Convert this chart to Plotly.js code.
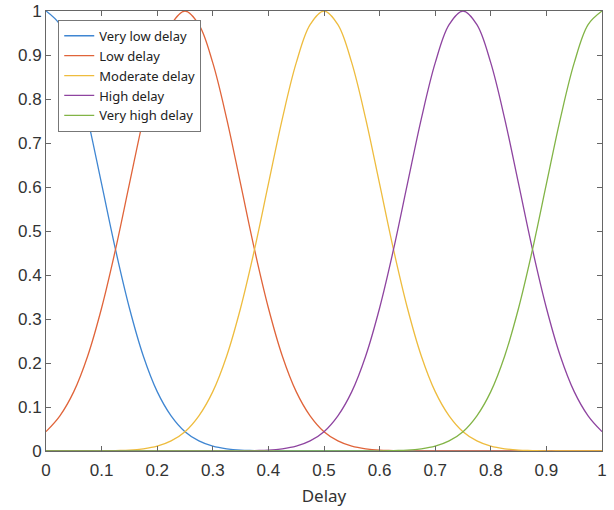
<!DOCTYPE html>
<html>
<head>
<meta charset="utf-8">
<script src="https://cdn.plot.ly/plotly-3.0.1.min.js"></script>
<style>html,body{margin:0;padding:0;background:#fff;}#chart{width:614px;height:510px;}</style>
</head>
<body>
<div id="chart"></div>
<script>
// Delay values (x axis)
const delay = [0,0.025,0.05,0.075,0.1,0.125,0.15,0.175,0.2,0.225,0.25,0.275,0.3,0.325,0.35,0.375,0.4,0.425,0.45,0.475,0.5,0.525,0.55,0.575,0.6,0.625,0.65,0.675,0.7,0.725,0.75,0.775,0.8,0.825,0.85,0.875,0.9,0.925,0.95,0.975,1];

const seriesNames = ["Very low delay","Low delay","Moderate delay","High delay","Very high delay"];

const veryLow = [1,0.969,0.882,0.755,0.607,0.458,0.325,0.216,0.135,0.080,0.044,0.023,0.011,0.005,0.002,0.001,0,0,0,0,0,0,0,0,0,0,0,0,0,0,0,0,0,0,0,0,0,0,0,0,0];
const low = [0.044,0.080,0.135,0.216,0.325,0.458,0.607,0.755,0.882,0.969,1,0.969,0.882,0.755,0.607,0.458,0.325,0.216,0.135,0.080,0.044,0.023,0.011,0.005,0.002,0.001,0,0,0,0,0,0,0,0,0,0,0,0,0,0,0];
const moderate = [0,0,0,0,0,0.001,0.002,0.005,0.011,0.023,0.044,0.080,0.135,0.216,0.325,0.458,0.607,0.755,0.882,0.969,1,0.969,0.882,0.755,0.607,0.458,0.325,0.216,0.135,0.080,0.044,0.023,0.011,0.005,0.002,0.001,0,0,0,0,0];
const high = [0,0,0,0,0,0,0,0,0,0,0,0,0,0,0,0.001,0.002,0.005,0.011,0.023,0.044,0.080,0.135,0.216,0.325,0.458,0.607,0.755,0.882,0.969,1,0.969,0.882,0.755,0.607,0.458,0.325,0.216,0.135,0.080,0.044];
const veryHigh = [0,0,0,0,0,0,0,0,0,0,0,0,0,0,0,0,0,0,0,0,0,0,0,0,0,0.001,0.002,0.005,0.011,0.023,0.044,0.080,0.135,0.216,0.325,0.458,0.607,0.755,0.882,0.969,1];

const tickVals = [0,0.1,0.2,0.3,0.4,0.5,0.6,0.7,0.8,0.9,1];
const tickText = ["0","0.1","0.2","0.3","0.4","0.5","0.6","0.7","0.8","0.9","1"];

const colors = ["#3f86d2","#e0643a","#eebc3e","#8e44a0","#82b446"];
const allSeries = [veryLow, low, moderate, high, veryHigh];

const TICKFONT = "Liberation Sans, Arial, sans-serif";
const FONT = "Noto Sans, Liberation Sans, Arial, sans-serif";

const traces = allSeries.map((ys, i) => ({
  x: delay, y: ys, type: "scatter", mode: "lines",
  name: seriesNames[i],
  line: {color: colors[i], width: 1.3, shape: "spline", smoothing: 1}
}));

const axisCommon = {
  showline: true, linecolor: "#666", linewidth: 1,
  mirror: "ticks", ticks: "inside", ticklen: 5, tickcolor: "#666",
  showgrid: false, zeroline: false,
  tickvals: tickVals, ticktext: tickText,
  tickfont: {family: TICKFONT, size: 17, color: "#333"}
};

const layout = {
  width: 614, height: 510,
  margin: {l: 46, r: 12, t: 11, b: 59},
  paper_bgcolor: "#fff", plot_bgcolor: "#fff",
  showlegend: true,
  xaxis: Object.assign({}, axisCommon, {range: [0, 1], ticklabelstandoff: 4,
    title: {text: "Delay", font: {family: FONT, size: 17, color: "#333"}, standoff: 10}}),
  yaxis: Object.assign({}, axisCommon, {range: [0, 1]}),
  legend: {
    x: 0.022, y: 0.98, xanchor: "left", yanchor: "top",
    bgcolor: "#fff", bordercolor: "#777", borderwidth: 1,
    font: {family: FONT, size: 13, color: "#222"},
    tracegroupgap: 0
  }
};

Plotly.newPlot("chart", traces, layout, {displayModeBar: false, staticPlot: true});
</script>
</body>
</html>
